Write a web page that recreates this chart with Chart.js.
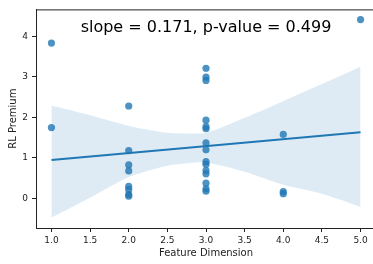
<!DOCTYPE html>
<html>
<head>
<meta charset="utf-8">
<script src="https://cdn.jsdelivr.net/npm/chart.js@4"></script>
<style>
  html, body { margin: 0; padding: 0; overflow: hidden; background: #fff; }
  #myChart { display: block; }
</style>
</head>
<body>
<canvas id="myChart" width="380" height="264"></canvas>
<script>
/** data */
const pointX = [1, 1,
  2, 2, 2, 2, 2, 2, 2, 2,
  3, 3, 3, 3, 3, 3, 3, 3, 3, 3, 3, 3, 3, 3, 3,
  4, 4, 4,
  5];
const pointY = [3.83, 1.75,
  2.28, 1.18, 0.83, 0.68, 0.30, 0.22, 0.10, 0.06,
  3.21, 2.99, 2.91, 1.93, 1.77, 1.72, 1.37, 1.20, 0.91, 0.84, 0.69, 0.61, 0.38, 0.24, 0.18,
  1.58, 0.17, 0.12,
  4.41];

// fitted line
const fitX = [1, 5];
const fitY = [0.95, 1.634];

// confidence band
const bandX = [1, 1.5, 2, 2.5, 3, 3.5, 4, 4.5, 5];
const bandUpper = [2.29, 2.05, 1.79, 1.62, 1.62, 1.99, 2.40, 2.82, 3.25];
const bandLower = [-0.47, 0.02, 0.53, 0.81, 0.89, 0.66, 0.34, 0.12, -0.20];

const xTicks = [1.0, 1.5, 2.0, 2.5, 3.0, 3.5, 4.0, 4.5, 5.0];
const yTicks = [0, 1, 2, 3, 4];

const titleText = 'slope = 0.171, p-value = 0.499';

const blue = '#1f77b4';
const zip = (xs, ys) => xs.map((x, i) => ({ x: x, y: ys[i] }));

// title inside the axes + top/right spines
const extrasPlugin = {
  id: 'extras',
  afterDraw(chart) {
    const { ctx, chartArea } = chart;
    ctx.save();
    ctx.strokeStyle = '#222';
    ctx.lineWidth = 1;
    ctx.beginPath();
    ctx.moveTo(chartArea.left, chartArea.top + 0.5);
    ctx.lineTo(chartArea.right, chartArea.top + 0.5);
    ctx.moveTo(chartArea.right - 0.5, chartArea.top);
    ctx.lineTo(chartArea.right - 0.5, chartArea.bottom);
    ctx.stroke();
    ctx.fillStyle = '#000';
    ctx.font = '16px "DejaVu Sans"';
    ctx.textAlign = 'center';
    ctx.textBaseline = 'alphabetic';
    ctx.fillText(titleText, (chartArea.left + chartArea.right) / 2, 31.5);
    ctx.restore();
  },
};

const tickFont = { family: 'DejaVu Sans', size: 9 };
const labelFont = { family: 'DejaVu Sans', size: 10 };

const myChart = new Chart(document.getElementById('myChart'), {
  type: 'scatter',
  data: {
    datasets: [
      {
        type: 'line',
        label: 'band upper',
        data: zip(bandX, bandUpper),
        borderWidth: 0,
        pointRadius: 0,
        fill: '+1',
        backgroundColor: 'rgba(31, 119, 180, 0.15)',
        tension: 0.2,
        order: 3,
      },
      {
        type: 'line',
        label: 'band lower',
        data: zip(bandX, bandLower),
        borderWidth: 0,
        pointRadius: 0,
        fill: false,
        tension: 0.2,
        order: 3,
      },
      {
        type: 'line',
        label: 'fit',
        data: zip(fitX, fitY),
        borderColor: blue,
        borderWidth: 2,
        pointRadius: 0,
        fill: false,
        order: 0,
      },
      {
        label: 'points',
        data: zip(pointX, pointY),
        backgroundColor: 'rgba(31, 119, 180, 0.8)',
        borderWidth: 0,
        pointRadius: 3.6,
        order: 1,
      },
    ],
  },
  options: {
    responsive: false,
    animation: false,
    events: [],
    layout: {
      padding: { left: 0, right: 4, top: 7, bottom: 0 },
    },
    plugins: {
      legend: { display: false },
      tooltip: { enabled: false },
    },
    scales: {
      x: {
        type: 'linear',
        min: 0.8,
        max: 5.2,
        afterBuildTicks: (scale) => {
          scale.ticks = xTicks.map((v) => ({ value: v }));
        },
        afterFit: (scale) => {
          scale.height = 36;
        },
        ticks: {
          font: tickFont,
          color: '#222',
          padding: 3,
          maxRotation: 0,
          callback: (v) => Number(v).toFixed(1),
        },
        grid: {
          drawOnChartArea: false,
          drawTicks: true,
          tickLength: 4,
          color: '#222',
        },
        border: { display: true, color: '#222', width: 1 },
        title: {
          display: true,
          text: 'Feature Dimension',
          font: labelFont,
          color: '#222',
          padding: { top: 0, bottom: 5 },
        },
      },
      y: {
        type: 'linear',
        min: -0.725,
        max: 4.66,
        afterBuildTicks: (scale) => {
          scale.ticks = yTicks.map((v) => ({ value: v }));
        },
        afterFit: (scale) => {
          scale.width = 36;
        },
        ticks: {
          font: tickFont,
          color: '#222',
          padding: 4,
          callback: (v) => String(v),
        },
        grid: {
          drawOnChartArea: false,
          drawTicks: true,
          tickLength: 4,
          color: '#222',
        },
        border: { display: true, color: '#222', width: 1 },
        title: {
          display: true,
          text: 'RL Premium',
          font: labelFont,
          color: '#222',
          padding: { top: 7, bottom: 0 },
        },
      },
    },
  },
  plugins: [extrasPlugin],
});
</script>
</body>
</html>
